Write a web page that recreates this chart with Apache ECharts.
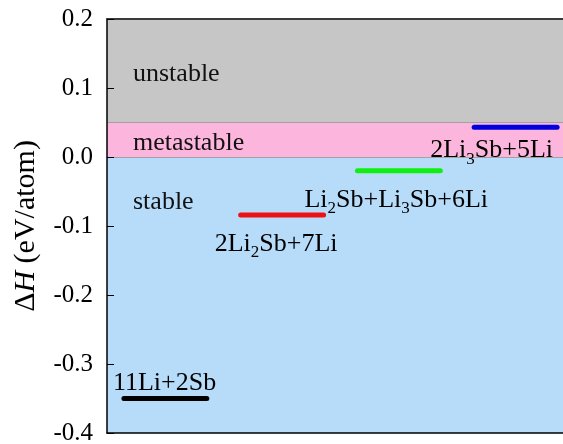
<!DOCTYPE html>
<html>
<head>
<meta charset="utf-8">
<script src="https://cdn.jsdelivr.net/npm/echarts@6/dist/echarts.min.js"></script>
<style>
  html, body { margin: 0; padding: 0; background: #fff; }
  #chart { width: 563px; height: 444px; }
  .preload { position: absolute; left: -9999px; top: 0; font-family: "Liberation Serif"; font-size: 25px; }
</style>
</head>
<body>
<span class="preload">0.1 ΔH eV/atom</span><span class="preload"><i>H</i></span>
<div id="chart"></div>
<script>
// Decomposition products and their formation enthalpy (eV/atom)
const products = ['11Li+2Sb', '2Li{s|2}Sb+7Li', 'Li{s|2}Sb+Li{s|3}Sb+6Li', '2Li{s|3}Sb+5Li'];
const deltaH = [-0.35, -0.084, -0.020, 0.043];
const productColors = ['#000000', '#ee1111', '#11ee11', '#0000dd'];

// Stability regions (lower bound, upper bound, name)
const regionNames = ['unstable', 'metastable', 'stable'];
const regionLower = [0.05, 0.0, -0.4];
const regionUpper = [0.2, 0.05, 0.0];
const regionColors = ['#c6c6c6', '#fcb5dc', '#b6dcfa'];

// y-axis ticks
const yMin = -0.4, yMax = 0.2, yStep = 0.1;

const FONT = 'Liberation Serif';
const HALF = 0.355;   // half width of each level segment, in x units

const richText = {
  n: { fontFamily: FONT, fontSize: 26, color: '#000', lineHeight: 27, verticalAlign: 'middle' },
  s: { fontFamily: FONT, fontSize: 17, color: '#000', lineHeight: 17, verticalAlign: 'middle', padding: [18, 0, 0, 0] }
};

function richLabel(txt) {
  // wrap plain runs in the normal style, keep {s|..} subscripts
  return txt.split(/(\{s\|[^}]*\})/).filter(Boolean)
    .map(p => p.startsWith('{s|') ? p : '{n|' + p + '}').join('');
}

// label placement relative to segment ends: [which end, align, dx, dy]
const labelPlace = [
  [0, 'left', -11, -15],
  [0, 'left', -26, 29],
  [0, 'left', -53, 29],
  [1, 'right', -4, 23]
];

const segmentSeries = products.map((name, i) => {
  const x = i + 1;
  const v = deltaH[i];
  const pl = labelPlace[i];
  const pts = [[x - HALF, v], [x + HALF, v]].map((p, k) => ({
    value: p,
    label: k === pl[0] ? {
      show: true,
      position: 'inside',
      align: pl[1],
      verticalAlign: 'middle',
      offset: [pl[2], pl[3]],
      formatter: richLabel(name),
      rich: richText
    } : { show: false }
  }));
  return {
    type: 'line',
    name: name,
    data: pts,
    symbol: 'circle',
    symbolSize: 0.01,
    showSymbol: true,
    silent: true,
    z: 5,
    lineStyle: { color: productColors[i], width: 5, cap: 'round' },
    itemStyle: { color: productColors[i] },
    animation: false
  };
});

// Background bands with their names
const bandSeries = {
  type: 'line',
  data: [],
  silent: true,
  z: 1,
  markArea: {
    silent: true,
    data: regionNames.map((nm, i) => [
      {
        yAxis: regionLower[i],
        itemStyle: { color: regionColors[i] },
        label: {
          show: true,
          formatter: nm,
          position: i === 2 ? 'insideTopLeft' : 'insideLeft',
          distance: 0,
          offset: i === 2 ? [26, 32] : [26, 3],
          fontFamily: FONT,
          fontSize: 26,
          color: '#111'
        }
      },
      { yAxis: regionUpper[i] }
    ])
  },
  markLine: {
    silent: true,
    symbol: 'none',
    label: { show: false },
    lineStyle: { color: '#a2a2a2', width: 1, type: 'solid' },
    data: [{ yAxis: regionLower[0] }, { yAxis: regionLower[1] }]
  },
  animation: false
};

const option = {
  animation: false,
  backgroundColor: '#ffffff',
  grid: { left: 107, top: 19, right: -11, bottom: 11, outerBoundsMode: 'none' },
  xAxis: [
    {
      type: 'value', min: 0.5, max: 4.5, position: 'bottom', z: 10,
      axisLine: { show: true, onZero: false, lineStyle: { color: '#000', width: 1.5 } },
      axisTick: { show: false }, axisLabel: { show: false }, splitLine: { show: false }
    },
    {
      type: 'value', min: 0.5, max: 4.5, position: 'top', z: 10,
      axisLine: { show: true, onZero: false, lineStyle: { color: '#3a3a3a', width: 2 } },
      axisTick: { show: false }, axisLabel: { show: false }, splitLine: { show: false }
    }
  ],
  yAxis: {
    type: 'value', min: yMin, max: yMax, interval: yStep, z: 10,
    axisLine: { show: true, onZero: false, lineStyle: { color: '#000', width: 1.5 } },
    axisTick: { show: true, inside: true, length: 7, lineStyle: { color: '#000', width: 1 } },
    axisLabel: {
      margin: 14,
      fontFamily: FONT, fontSize: 25, color: '#000',
      formatter: v => (Math.abs(v) < 1e-9 ? 0 : v).toFixed(1)
    },
    splitLine: { show: false },
    name: '{n|Δ}{i|H}{n| (eV/atom)}',
    nameLocation: 'middle',
    nameRotate: 90,
    nameGap: 66,
    nameTextStyle: {
      fontFamily: FONT,
      fontSize: 30,
      rich: {
        n: { fontFamily: FONT, fontSize: 30, color: '#000' },
        i: { fontFamily: FONT, fontSize: 30, color: '#000', fontStyle: 'italic' }
      }
    }
  },
  series: [bandSeries].concat(segmentSeries)
};

const chart = echarts.init(document.getElementById('chart'), null, { renderer: 'canvas' });
chart.setOption(option);

// redraw once the serif faces are ready so every text uses them
if (document.fonts && document.fonts.load) {
  Promise.all([
    document.fonts.load('25px "Liberation Serif"'),
    document.fonts.load('italic 30px "Liberation Serif"')
  ]).then(() => {
    chart.clear();
    chart.setOption(option);
  }).catch(() => {});
}
</script>
</body>
</html>
